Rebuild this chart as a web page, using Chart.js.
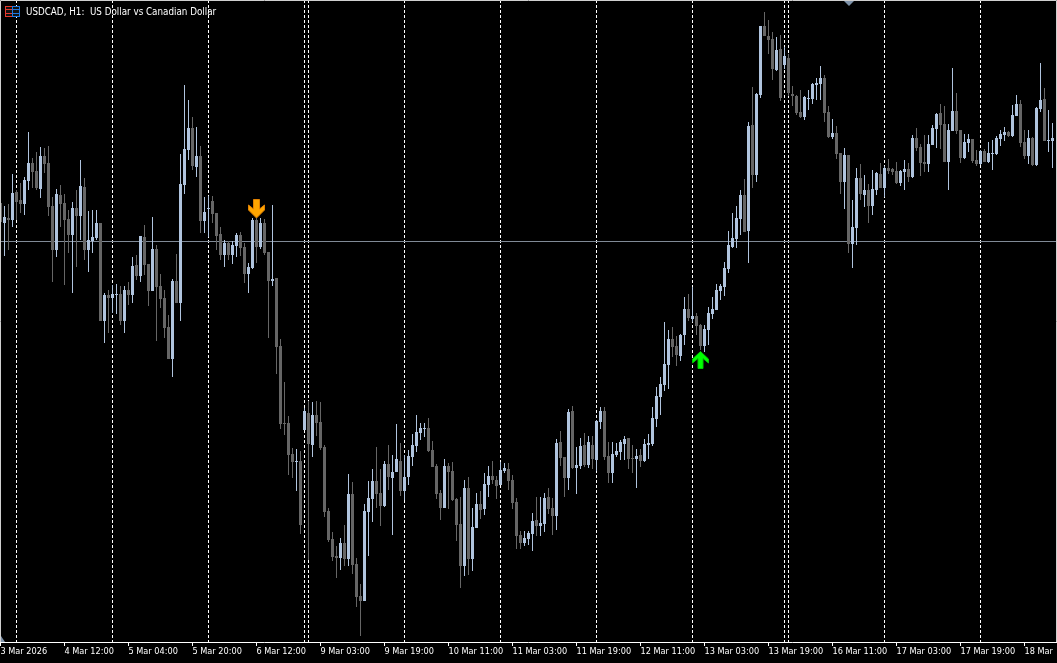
<!DOCTYPE html>
<html><head><meta charset="utf-8">
<style>html,body{margin:0;padding:0;background:#000;overflow:hidden}canvas{display:block}</style>
<script src="https://cdn.jsdelivr.net/npm/chart.js@4/dist/chart.umd.min.js"></script>
</head><body><canvas id="c" width="1057" height="663"></canvas>
<script>
// Hourly bars, values in points above the bottom of the visible range.
const opens=[439,419,424,422,450,442,438,461,479,471,453,486,479,436,392,447,439,423,407,434,426,455,392,401,404,419,
321,347,344,347,348,321,352,347,377,366,405,378,351,393,356,344,315,283,361,339,
457,492,514,475,486,421,433,441,429,408,387,399,387,396,407,395,368,374,422,395,419,390,361,364,296,219,219,188,180,181,
212,229,197,227,220,195,131,103,86,84,99,83,148,78,46,41,130,143,161,149,136,178,164,170,181,151,165,185,196,209,213,214,
192,176,149,134,176,171,143,118,76,154,83,114,138,133,157,166,162,157,171,173,162,140,107,99,103,108,122,116,118,145,134,126,
200,185,164,231,174,176,197,177,197,182,220,231,186,169,187,190,198,204,184,183,187,181,197,198,223,245,257,277,303,296,286,307,
333,323,326,317,296,312,328,332,351,355,373,395,403,423,447,411,517,467,547,616,606,603,572,593,577,584,548,546,530,525,543,543,
557,558,564,530,505,509,489,460,487,398,414,464,447,452,436,452,468,454,474,473,471,459,470,473,465,504,495,480,478,497,513,529,
518,480,511,531,512,484,499,503,482,478,491,480,488,488,503,507,510,506,526,538,500,486,504,477,533,543,501,501];
const highs=[442,436,438,468,452,459,465,510,484,490,495,494,496,445,453,457,448,432,440,452,482,464,431,432,432,419,
349,352,357,358,356,356,360,385,387,406,417,378,425,397,368,352,327,363,388,488,
557,542,525,515,496,445,446,446,429,415,402,401,401,409,410,399,379,424,424,424,423,390,437,364,303,260,226,194,193,191,
234,241,240,241,240,197,134,110,96,104,117,168,160,84,58,138,161,173,195,173,181,197,187,218,199,187,192,208,227,219,219,224,
201,178,152,183,179,180,144,145,162,165,134,149,151,169,176,181,166,180,179,179,167,144,111,111,111,129,145,145,149,154,144,203,
211,185,233,236,195,204,209,206,206,222,235,235,200,200,199,202,206,204,197,193,193,203,208,235,255,265,320,312,315,306,308,345,
348,355,329,318,317,335,345,358,358,380,411,429,436,452,463,520,555,549,616,630,622,610,605,607,595,588,556,547,552,546,552,559,
564,576,567,536,523,516,489,494,487,442,474,478,467,458,472,470,479,476,483,474,480,472,482,479,507,514,498,507,507,517,529,538,
536,518,574,549,512,508,508,503,492,492,493,500,502,506,512,515,511,537,547,542,512,512,505,535,579,554,532,519];
const lows=[410,386,392,415,422,429,427,452,454,452,444,469,426,360,385,415,357,389,349,375,402,382,370,389,402,321,
299,309,329,328,317,309,337,339,362,360,367,336,351,301,334,304,283,265,339,321,
448,482,472,465,409,409,405,419,392,382,375,382,378,385,386,359,349,373,379,393,387,304,356,268,213,207,167,164,151,108,
212,82,185,206,192,125,100,81,64,72,76,76,68,35,6,41,86,120,134,116,135,152,107,170,146,142,157,176,190,202,205,190,
175,143,122,134,133,141,101,54,66,67,71,114,123,127,145,158,143,157,169,152,133,93,93,96,97,91,106,106,110,128,107,112,
176,145,152,173,148,173,175,174,173,171,213,182,159,159,185,182,182,173,169,154,175,180,183,196,215,227,251,253,285,276,281,297,
321,320,307,292,290,297,323,332,342,346,369,394,394,407,410,379,454,460,544,606,588,562,571,541,573,546,536,527,524,522,532,538,
542,542,520,504,503,483,448,433,389,374,397,442,435,419,427,447,454,445,468,467,458,456,452,460,464,491,466,470,470,497,494,493,
480,452,511,508,479,483,490,479,476,477,480,479,472,487,496,501,505,505,526,495,483,478,476,476,530,501,490,474];
const closes=[420,425,422,449,440,438,462,479,470,454,486,478,435,392,448,438,422,407,434,426,456,392,402,405,419,321,
347,344,348,348,321,352,347,376,366,406,377,351,393,355,343,314,283,361,339,458,
493,514,476,486,421,430,434,428,406,387,399,387,397,407,394,368,375,422,395,419,389,361,363,295,218,218,187,180,181,117,
231,198,227,219,194,130,102,85,84,99,83,148,77,45,41,131,144,161,148,136,178,165,170,183,151,165,186,197,210,214,214,191,
175,148,134,176,170,142,117,76,154,83,115,138,132,158,166,162,156,172,174,161,139,106,99,104,109,121,116,119,144,133,126,199,
184,164,230,174,177,196,177,200,183,221,231,185,169,188,191,200,203,183,183,186,181,198,199,224,246,258,278,303,295,287,307,333,
324,326,316,296,313,329,333,352,356,374,397,404,424,447,410,516,467,548,616,606,602,573,592,544,586,549,546,529,525,545,544,558,
559,564,529,505,509,488,460,487,398,415,464,448,452,436,453,469,454,474,471,470,459,471,473,465,504,494,479,478,498,514,528,517,
480,512,531,511,484,500,503,481,478,491,480,489,489,504,508,510,506,527,538,499,486,504,477,534,542,501,502,504];
const tickLabels=["3 Mar 2026","4 Mar 12:00","5 Mar 04:00","5 Mar 20:00","6 Mar 12:00","9 Mar 03:00","9 Mar 19:00","10 Mar 11:00","11 Mar 03:00","11 Mar 19:00","12 Mar 11:00","13 Mar 03:00","13 Mar 19:00","16 Mar 11:00","17 Mar 03:00","17 Mar 19:00","18 Mar"];
const tickBars=[0,16,32,48,64,80,96,112,128,144,160,176,192,208,224,240,256];
const daySeparatorBars=[4,28,52,76,77,101,125,149,173,196,197,221,245];
const priceLine=[400.5];
const sellSignal=[{bar:64,value:433}];
const buySignal=[{bar:175,value:282}];
const titleText="USDCAD, H1:  US Dollar vs Canadian Dollar";
const FONT='9.75px "DejaVu Sans Condensed"';
const BULL='#B0C4DE',BEAR='#666666';
const barIndex=opens.map((_,i)=>i);
const colors=barIndex.map(i=>closes[i]>=opens[i]?BULL:BEAR);

function arrow(w,h,pts,fill,edge){
  const c=document.createElement('canvas');c.width=w;c.height=h;
  const g=c.getContext('2d');g.beginPath();pts.forEach((p,i)=>i?g.lineTo(p[0],p[1]):g.moveTo(p[0],p[1]));g.closePath();
  g.fillStyle=fill;g.fill();g.strokeStyle=edge;g.lineWidth=1;g.stroke();return c;
}
const downArrow=arrow(17,20,[[5.5,.5],[11.5,.5],[11.5,10],[16.5,6],[16.5,11],[8.5,19],[.5,11],[.5,6],[5.5,10]],'#FFA500','#E08000');
const upArrow=arrow(17,18,[[8.5,.5],[16.5,8],[16.5,12],[11,7.5],[11,17.5],[6,17.5],[6,7.5],[.5,12],[.5,8]],'#00FF00','#00C800');

const furniture={id:'furniture',
  beforeDatasetsDraw(ch){
    const {ctx,scales:{x},chartArea:a}=ch;
    ctx.save();ctx.strokeStyle='#fff';ctx.lineWidth=1;ctx.setLineDash([3,2]);
    daySeparatorBars.forEach(b=>{const p=x.getPixelForValue(b);ctx.beginPath();ctx.moveTo(p,a.top);ctx.lineTo(p,a.bottom);ctx.stroke();});
    ctx.restore();
  },
  afterDraw(ch){
    const {ctx,chartArea:a}=ch;ctx.save();
    ctx.strokeStyle='#cfcfcf';ctx.lineWidth=1;
    ctx.beginPath();ctx.moveTo(.5,a.bottom);ctx.lineTo(.5,.5);ctx.lineTo(1056.5,.5);ctx.lineTo(1056.5,a.bottom);ctx.stroke();
    ctx.fillStyle='#7f93aa';
    ctx.beginPath();ctx.moveTo(844,1);ctx.lineTo(854,1);ctx.lineTo(849,6);ctx.closePath();ctx.fill();
    ctx.beginPath();ctx.moveTo(1,636);ctx.lineTo(5,642);ctx.lineTo(1,642);ctx.closePath();ctx.fill();
    ctx.fillStyle='#111';ctx.fillRect(5,6,15,11);
    ctx.strokeStyle='#E5392E';ctx.strokeRect(5.5,6.5,7,10);
    ctx.beginPath();ctx.moveTo(6,9.5);ctx.lineTo(12,9.5);ctx.moveTo(6,13.5);ctx.lineTo(12,13.5);ctx.stroke();
    ctx.strokeStyle='#1E78E0';ctx.strokeRect(12.5,6.5,7,10);
    ctx.beginPath();ctx.moveTo(13,9.5);ctx.lineTo(19,9.5);ctx.moveTo(13,13.5);ctx.lineTo(19,13.5);ctx.stroke();
    ctx.fillStyle='#fff';ctx.font=FONT;ctx.textBaseline='alphabetic';ctx.textAlign='left';
    ctx.fillText(titleText,26,15);
    ctx.restore();
  }};

new Chart(document.getElementById('c'),{
  type:'bar',
  data:{datasets:[
    {type:'line',order:10,data:[{x:-0.125,y:priceLine[0]},{x:263.875,y:priceLine[0]}],borderColor:'#808A96',borderWidth:1,pointRadius:0,tension:0},
    {order:3,data:barIndex.map(i=>({x:i,y:[lows[i],highs[i]]})),backgroundColor:colors,barThickness:1,grouped:false,borderWidth:0,inflateAmount:0},
    {order:2,data:barIndex.map(i=>({x:i,y:[opens[i],closes[i]]})),backgroundColor:colors,barThickness:3,grouped:false,borderWidth:0,inflateAmount:0},
    {type:'scatter',order:1,data:sellSignal.map(s=>({x:s.bar,y:s.value})),pointStyle:downArrow,pointRadius:10},
    {type:'scatter',order:1,data:buySignal.map(s=>({x:s.bar,y:s.value})),pointStyle:upArrow,pointRadius:10}
  ]},
  options:{
    responsive:false,animation:false,devicePixelRatio:1,
    layout:{autoPadding:false,padding:{left:0,right:1,top:0,bottom:0}},
    plugins:{legend:{display:false},tooltip:{enabled:false},title:{display:false}},
    scales:{
      x:{type:'linear',offset:false,min:-0.125,max:263.875,
        afterBuildTicks(s){s.ticks=tickBars.map(v=>({value:v}));},
        afterFit(s){s.height=21;s.paddingLeft=0;s.paddingRight=0;},
        border:{color:'#fff',width:1},
        grid:{offset:false,drawOnChartArea:false,drawTicks:true,tickLength:4,tickColor:'#fff',tickWidth:1},
        ticks:{autoSkip:false,maxRotation:0,minRotation:0,align:'start',padding:0,color:'#fff',font:{family:'"DejaVu Sans Condensed"',size:9.1},
          callback(v){return tickLabels[tickBars.indexOf(v)];}}},
      y:{display:false,min:0,max:642}
    }
  },
  plugins:[furniture]
});
</script></body></html>
